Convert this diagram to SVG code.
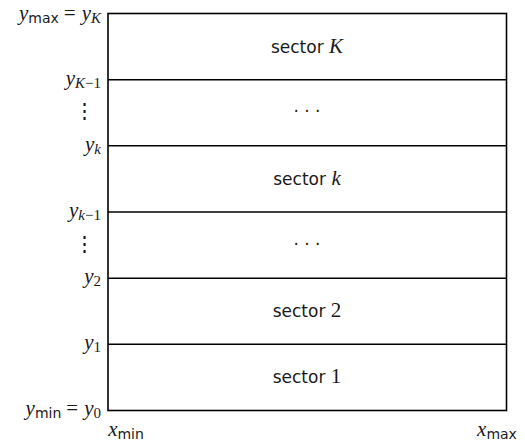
<svg xmlns="http://www.w3.org/2000/svg" width="525" height="443" viewBox="0 0 525 443">
<style>
.ln{stroke:#000;stroke-width:1.6;fill:none}
text{font-family:"DejaVu Sans","Liberation Sans",sans-serif;font-size:17px;fill:#1a1a1a}
.m{font-family:"Liberation Serif",serif;font-style:italic;font-size:21px}
.r{font-family:"Liberation Serif",serif;font-style:normal;font-size:21px}
.s{font-size:14px}
.ms{font-family:"Liberation Serif",serif;font-style:italic;font-size:15px}
.rs{font-family:"Liberation Serif",serif;font-style:normal;font-size:15px}
.lab{text-anchor:end}
.c{text-anchor:middle}
</style>
<rect id="bg" x="0" y="0" width="525" height="443" fill="#fff"/>
<g id="connectors">
<rect class="ln" x="108" y="13.5" width="398.5" height="397"/>
<line class="ln" x1="108" y1="79.7" x2="506.5" y2="79.7"/>
<line class="ln" x1="108" y1="145.8" x2="506.5" y2="145.8"/>
<line class="ln" x1="108" y1="212" x2="506.5" y2="212"/>
<line class="ln" x1="108" y1="278.2" x2="506.5" y2="278.2"/>
<line class="ln" x1="108" y1="344.3" x2="506.5" y2="344.3"/>
</g>
<g id="sector-K"><text class="c" x="307" y="52.5">sector <tspan class="m">K</tspan></text></g>
<g id="sector-dots-top"><text class="c" x="307" y="117">· · ·</text></g>
<g id="sector-k"><text class="c" x="307" y="185">sector <tspan class="m">k</tspan></text></g>
<g id="sector-dots-mid"><text class="c" x="307" y="249.5">· · ·</text></g>
<g id="sector-2"><text class="c" x="307" y="317">sector <tspan class="r">2</tspan></text></g>
<g id="sector-1"><text class="c" x="307" y="383">sector <tspan class="r">1</tspan></text></g>
<g id="labels-y">
<text class="lab" x="101" y="20"><tspan class="m">y</tspan><tspan class="s" dy="3">max</tspan><tspan class="r" dy="-3" dx="5">=</tspan><tspan class="m" dx="6">y</tspan><tspan class="ms" dy="3">K</tspan></text>
<text class="lab" x="101" y="85"><tspan class="m">y</tspan><tspan class="ms" dy="3">K</tspan><tspan class="rs">−1</tspan></text>
<text class="lab r" x="95" y="118" style="font-style:normal">⋮</text>
<text class="lab" x="101" y="151"><tspan class="m">y</tspan><tspan class="ms" dy="3">k</tspan></text>
<text class="lab" x="101" y="217"><tspan class="m">y</tspan><tspan class="ms" dy="3">k</tspan><tspan class="rs">−1</tspan></text>
<text class="lab r" x="95" y="251" style="font-style:normal">⋮</text>
<text class="lab" x="101" y="283"><tspan class="m">y</tspan><tspan class="rs" dy="3">2</tspan></text>
<text class="lab" x="101" y="349"><tspan class="m">y</tspan><tspan class="rs" dy="3">1</tspan></text>
<text class="lab" x="101" y="415"><tspan class="m">y</tspan><tspan class="s" dy="3">min</tspan><tspan class="r" dy="-3" dx="5">=</tspan><tspan class="m" dx="6">y</tspan><tspan class="rs" dy="3">0</tspan></text>
</g>
<g id="labels-x">
<text class="c" x="126" y="436"><tspan class="m">x</tspan><tspan class="s" dy="3">min</tspan></text>
<text class="c" x="497" y="436"><tspan class="m">x</tspan><tspan class="s" dy="3">max</tspan></text>
</g>
</svg>
